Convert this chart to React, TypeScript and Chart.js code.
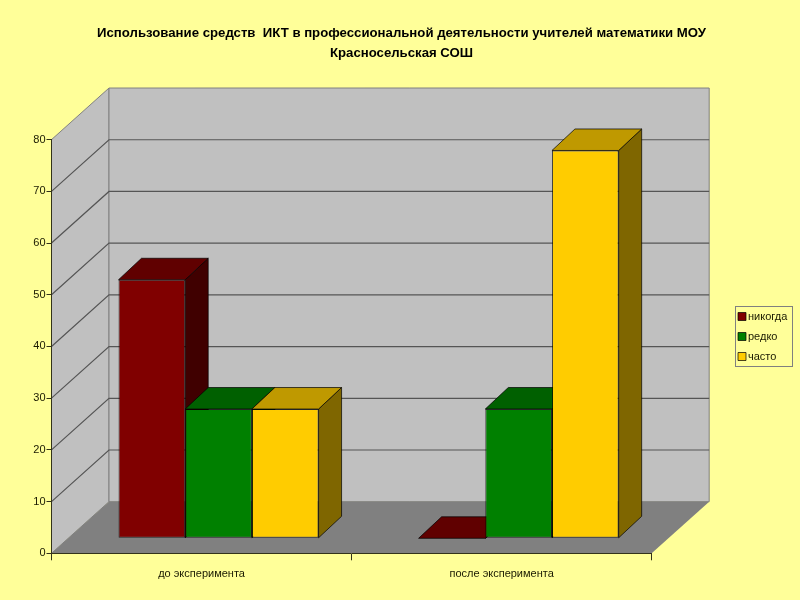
import { useEffect, useRef } from "react";
import { Chart, registerables } from "chart.js";

Chart.register(...registerables);

const categories = ["до эксперимента", "после эксперимента"];
const never = [50, 0];
const rarely = [25, 25];
const often = [25, 75];
const titleLines = [
  "Использование средств  ИКТ в профессиональной деятельности учителей математики МОУ",
  "Красносельская СОШ",
];

const fontFamily = "'Liberation Sans', sans-serif";
const wallDepth = { x: 57.5, y: 51.6 };
const barShift = { x: 17, y: 15 };
const barDepth = { x: 23, y: 21.5 };
const barLine = "rgba(0, 0, 0, 0.7)";
// front, top and side colours of each series
const faces = [
  { front: "#800000", top: "#600000", side: "#400000" },
  { front: "#008000", top: "#006000", side: "#004000" },
  { front: "#FFCC00", top: "#BF9900", side: "#7F6600" },
];

function poly(ctx: CanvasRenderingContext2D, pts: number[][], fill: string | null, stroke: string | null) {
  ctx.beginPath();
  pts.forEach(([x, y], i) => (i ? ctx.lineTo(x, y) : ctx.moveTo(x, y)));
  ctx.closePath();
  if (fill) {
    ctx.fillStyle = fill;
    ctx.fill();
  }
  if (stroke) {
    ctx.strokeStyle = stroke;
    ctx.lineWidth = 1;
    ctx.stroke();
  }
}

const box3d = {
  id: "box3d",
  beforeDraw(chart: any) {
    const { ctx, chartArea: a, scales } = chart;
    const dx = wallDepth.x;
    const dy = wallDepth.y;
    ctx.save();
    // left wall, back wall, floor
    poly(ctx, [[a.left, a.bottom], [a.left, a.top], [a.left + dx, a.top - dy], [a.left + dx, a.bottom - dy]], "#C0C0C0", "#808080");
    poly(ctx, [[a.left + dx, a.top - dy], [a.right + dx, a.top - dy], [a.right + dx, a.bottom - dy], [a.left + dx, a.bottom - dy]], "#C0C0C0", "#808080");
    poly(ctx, [[a.left, a.bottom], [a.left + dx, a.bottom - dy], [a.right + dx, a.bottom - dy], [a.right, a.bottom]], "#808080", null);
    ctx.strokeStyle = "#555555";
    ctx.lineWidth = 1.2;
    scales.y.ticks.forEach((t: any) => {
      if (t.value === 0 || t.value === 80) return;
      const y = scales.y.getPixelForValue(t.value);
      ctx.beginPath();
      ctx.moveTo(a.left, y);
      ctx.lineTo(a.left + dx, y - dy);
      ctx.lineTo(a.right + dx, y - dy);
      ctx.stroke();
    });
    ctx.restore();
  },
  beforeDatasetDraw() {
    return false;
  },
  afterDatasetsDraw(chart: any) {
    const { ctx } = chart;
    chart.data.datasets.forEach((_: any, d: number) => {
      chart.getDatasetMeta(d).data.forEach((bar: any) => {
        const { x, y, base, width } = bar.getProps(["x", "y", "base", "width"]);
        const l = x - width / 2;
        const r = x + width / 2;
        ctx.save();
        ctx.translate(barShift.x, -barShift.y);
        poly(ctx, [[r, y], [r + barDepth.x, y - barDepth.y], [r + barDepth.x, base - barDepth.y], [r, base]], faces[d].side, barLine);
        poly(ctx, [[l, y], [l + barDepth.x, y - barDepth.y], [r + barDepth.x, y - barDepth.y], [r, y]], faces[d].top, barLine);
        bar.draw(ctx);
        ctx.restore();
      });
    });
  },
  afterLayout(chart: any) {
    // legend sits a bit off the centre and the title is centred on the whole page
    const legend = chart.legend;
    legend.left = 732.5;
    legend.right = 795;
    legend.top = 302;
    legend.bottom = 371;
    chart.titleBlock.left = 3;
    chart.titleBlock.right = 800;
  },
  afterDraw(chart: any) {
    const { ctx } = chart;
    ctx.save();
    ctx.strokeStyle = "#808080";
    ctx.lineWidth = 1;
    ctx.strokeRect(735.5, 306.5, 57, 60);
    ctx.restore();
  },
};

export default function App() {
  const canvasRef = useRef<HTMLCanvasElement>(null);

  useEffect(() => {
    if (!canvasRef.current) return;
    const tickColor = "#1a1a00";
    const chart = new Chart(canvasRef.current, {
      type: "bar",
      data: {
        labels: categories,
        datasets: [
          { label: "никогда", data: never, backgroundColor: faces[0].front },
          { label: "редко", data: rarely, backgroundColor: faces[1].front },
          { label: "часто", data: often, backgroundColor: faces[2].front },
        ].map((ds) => ({
          ...ds,
          borderColor: barLine,
          borderWidth: 1,
          borderSkipped: false,
          categoryPercentage: 2 / 3,
          barPercentage: 1,
        })),
      },
      options: {
        responsive: false,
        animation: false,
        layout: { padding: { left: 3, right: 83.5, top: 0, bottom: 0 } },
        plugins: {
          title: {
            display: true,
            text: titleLines,
            color: "#000000",
            font: { family: fontFamily, size: 13.2, weight: "bold", lineHeight: 1.52 },
            padding: { top: 23, bottom: 76.5 },
          },
          legend: {
            position: "right",
            labels: {
              color: tickColor,
              font: { family: fontFamily, size: 11 },
              usePointStyle: true,
              pointStyle: "rect",
              boxWidth: 1,
              boxHeight: 8,
              padding: 9,
            },
          },
          tooltip: { enabled: false },
        },
        scales: {
          x: {
            grid: { drawOnChartArea: false, tickLength: 7, color: "#33331a" },
            border: { color: "#33331a" },
            ticks: { color: tickColor, font: { family: fontFamily, size: 11 }, padding: 7 },
            afterFit: (s: any) => {
              s.height = 46.7;
            },
          },
          y: {
            min: 0,
            max: 80,
            grid: { drawOnChartArea: false, tickLength: 5, color: "#33331a" },
            border: { color: "#33331a" },
            ticks: { stepSize: 10, color: tickColor, font: { family: fontFamily, size: 11 }, padding: 1 },
            afterFit: (s: any) => {
              s.width = 48.5;
            },
          },
        },
      },
      plugins: [box3d],
    });
    return () => chart.destroy();
  }, []);

  return (
    <div style={{ position: "absolute", left: 0, top: 0, width: 800, height: 600, background: "#FFFF99" }}>
      <canvas ref={canvasRef} width={800} height={600}></canvas>
    </div>
  );
}
